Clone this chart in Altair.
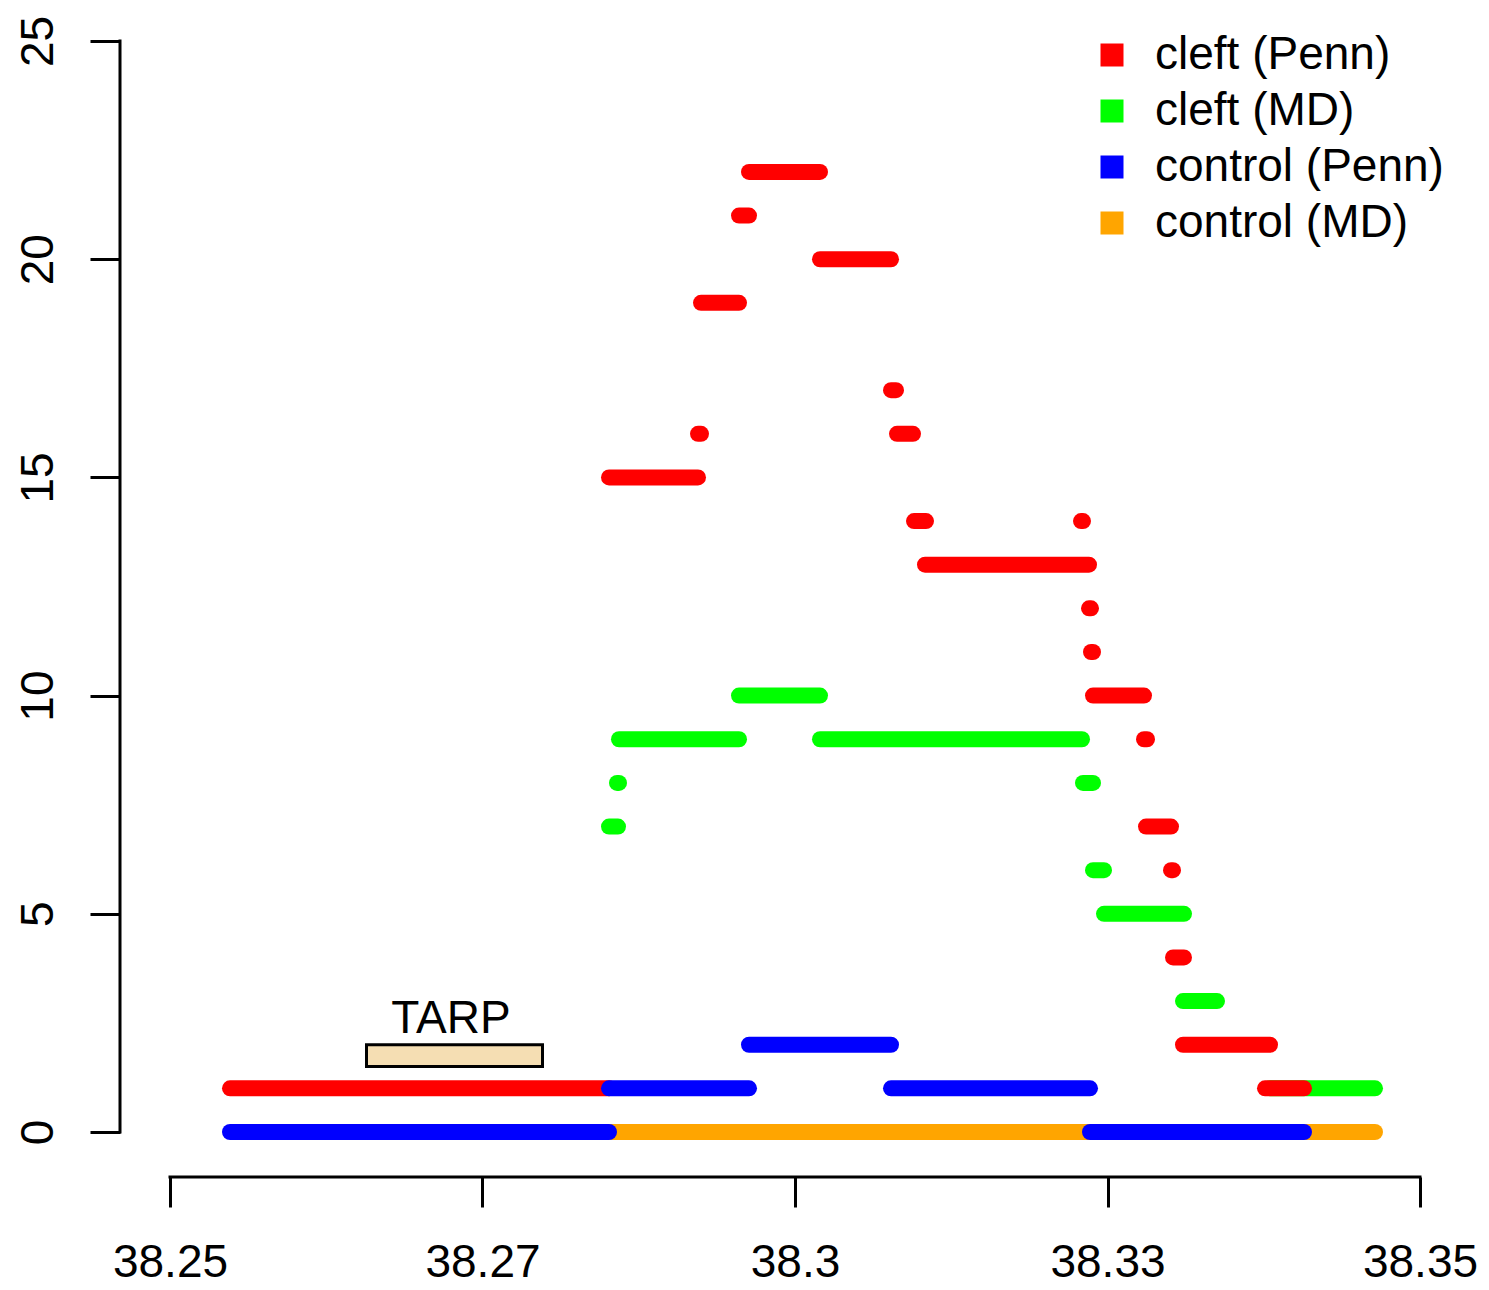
import altair as alt
import pandas as pd

FONT = "Liberation Sans"

series_names = ["cleft (Penn)", "cleft (MD)", "control (Penn)", "control (MD)"]
series_colors = ["#FF0000", "#00FF00", "#0000FF", "#FFA500"]

# cleft (Penn)
cleft_penn_level = [1, 15, 16, 19, 21, 22, 20, 17, 16, 14, 13, 14, 12, 11, 10, 9, 7, 6, 4, 2, 1]
cleft_penn_start = [38.2548, 38.28512, 38.29224, 38.29248, 38.29552, 38.29632, 38.302, 38.30768,
                    38.30816, 38.30952, 38.3104, 38.32288, 38.32352, 38.32368, 38.32384, 38.32792,
                    38.32808, 38.33008, 38.33024, 38.33104, 38.3376]
cleft_penn_end = [38.28512, 38.29224, 38.29248, 38.29552, 38.29632, 38.302, 38.30768, 38.30808,
                  38.30944, 38.31048, 38.32352, 38.32304, 38.32368, 38.32384, 38.32792, 38.32816,
                  38.33008, 38.33024, 38.33112, 38.338, 38.34072]

# cleft (MD)
cleft_md_level = [7, 8, 9, 10, 9, 8, 6, 5, 3, 1]
cleft_md_start = [38.28512, 38.28576, 38.28592, 38.29552, 38.302, 38.32304, 38.32384, 38.32472,
                  38.33104, 38.338]
cleft_md_end = [38.28584, 38.28592, 38.29552, 38.302, 38.32296, 38.32384, 38.32472, 38.33112,
                38.33376, 38.3464]

# control (Penn)
control_penn_level = [0, 1, 2, 1, 0]
control_penn_start = [38.2548, 38.28512, 38.29632, 38.30768, 38.3236]
control_penn_end = [38.28512, 38.29632, 38.30768, 38.3236, 38.34072]

# control (MD)
control_md_level = [0, 0]
control_md_start = [38.28512, 38.34072]
control_md_end = [38.3236, 38.3464]

# TARP gene annotation
tarp_label = "TARP"
tarp_start = 38.26572
tarp_end = 38.2798
tarp_low = 1.5
tarp_high = 2.0
tarp_text_x = 38.27248
tarp_text_y = 2.27

x_tick_values = [38.25, 38.275, 38.3, 38.325, 38.35]
x_tick_labels = ["38.25", "38.27", "38.3", "38.33", "38.35"]
y_tick_values = [0, 5, 10, 15, 20, 25]

x_domain = [38.246, 38.354]
y_domain = [-1.031, 25.757]

FS = 46

# build table (drawing order: control MD, cleft MD, cleft Penn, control Penn)
rows = []
for name, lv, st, en in [
    ("control (MD)", control_md_level, control_md_start, control_md_end),
    ("cleft (MD)", cleft_md_level, cleft_md_start, cleft_md_end),
    ("cleft (Penn)", cleft_penn_level, cleft_penn_start, cleft_penn_end),
    ("control (Penn)", control_penn_level, control_penn_start, control_penn_end),
]:
    for l, s, e in zip(lv, st, en):
        rows.append({"series": name, "level": l, "start": s, "end": e})
seg_df = pd.DataFrame(rows)

xscale = alt.Scale(domain=x_domain, nice=False, zero=False)
yscale = alt.Scale(domain=y_domain, nice=False, zero=False)

label_expr = "[{}][indexof([{}], datum.value)]".format(
    ",".join("'{}'".format(l) for l in x_tick_labels),
    ",".join(str(v) for v in x_tick_values),
)

x_axis = alt.Axis(values=x_tick_values, labelExpr=label_expr, domain=False, grid=False,
                  ticks=True, tickSize=30, tickWidth=3, tickColor="black",
                  labelFont=FONT, labelFontSize=FS, labelColor="black",
                  labelBaseline="alphabetic", labelPadding=69, labelAlign="center",
                  title=None, labelFlush=False, labelOverlap=False)
y_axis = alt.Axis(values=y_tick_values, format="d", domain=False, grid=False,
                  ticks=True, tickSize=30, tickWidth=3, tickColor="black",
                  labelFont=FONT, labelFontSize=FS, labelColor="black",
                  labelAngle=270, labelAlign="center", labelBaseline="alphabetic",
                  labelPadding=38, title=None, labelFlush=False, labelOverlap=False)

legend = alt.Legend(
    title=None, orient="none", legendX=969, legendY=24, padding=0,
    symbolType="square", symbolSize=529, symbolStrokeWidth=0, symbolOpacity=1,
    labelFont=FONT, labelFontSize=FS, labelColor="black", labelLimit=0,
    rowPadding=10, labelOffset=20,
)
color_enc = alt.Color("series:N", scale=alt.Scale(domain=series_names, range=series_colors),
                      legend=legend)

# zero-size filled squares: only carry the legend symbols
legend_carrier = alt.Chart(seg_df).mark_square(size=0, filled=True).encode(
    x=alt.X("start:Q", scale=xscale, axis=x_axis),
    y=alt.Y("level:Q", scale=yscale, axis=y_axis),
    color=color_enc,
)

segments = alt.Chart(seg_df).mark_rule(strokeWidth=16, strokeCap="round").encode(
    x=alt.X("start:Q", scale=xscale, axis=x_axis),
    x2="end:Q",
    y=alt.Y("level:Q", scale=yscale, axis=y_axis),
    color=color_enc,
)

# axis lines (R style: span first to last tick)
xaxis_df = pd.DataFrame({"x1": [x_tick_values[0]], "x2": [x_tick_values[-1]], "y": [y_domain[0]]})
xaxis_line = alt.Chart(xaxis_df).mark_rule(strokeWidth=3, color="black", strokeCap="square").encode(
    x=alt.X("x1:Q", scale=xscale), x2="x2:Q", y=alt.Y("y:Q", scale=yscale))
yaxis_df = pd.DataFrame({"x": [x_domain[0]], "y1": [y_tick_values[0]], "y2": [y_tick_values[-1]]})
yaxis_line = alt.Chart(yaxis_df).mark_rule(strokeWidth=3, color="black", strokeCap="square").encode(
    x=alt.X("x:Q", scale=xscale), y=alt.Y("y1:Q", scale=yscale), y2="y2:Q")

tarp_df = pd.DataFrame({"x1": [tarp_start], "x2": [tarp_end], "y1": [tarp_low], "y2": [tarp_high],
                        "tx": [tarp_text_x], "ty": [tarp_text_y], "label": [tarp_label]})
tarp_rect = alt.Chart(tarp_df).mark_rect(fill="#F5DEB3", stroke="black", strokeWidth=3).encode(
    x=alt.X("x1:Q", scale=xscale), x2="x2:Q", y=alt.Y("y1:Q", scale=yscale), y2="y2:Q")
tarp_text = alt.Chart(tarp_df).mark_text(font=FONT, fontSize=FS, color="black", align="center",
                                         baseline="alphabetic").encode(
    x=alt.X("tx:Q", scale=xscale), y=alt.Y("ty:Q", scale=yscale), text="label:N")

chart = alt.layer(legend_carrier, xaxis_line, yaxis_line, tarp_rect, tarp_text, segments).properties(
    width=1350, height=1169,
    background="white",
    autosize=alt.AutoSizeParams(type="none"),
    padding={"left": 112, "top": 0, "right": 10, "bottom": 110},
).configure_view(stroke=None)

chart.save("out.html", embed_options={"renderer": "svg", "actions": False})
